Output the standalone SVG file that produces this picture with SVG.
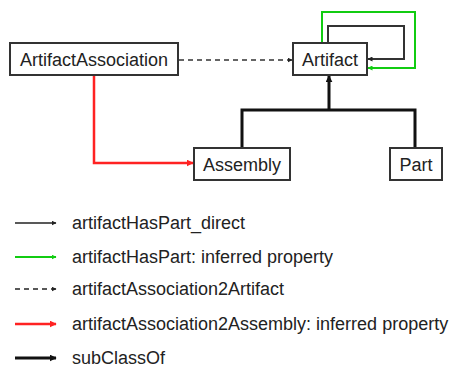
<svg xmlns="http://www.w3.org/2000/svg" width="456" height="367" viewBox="0 0 456 367">
<style>
.box{fill:#fff;stroke:#333;stroke-width:2}
.lbl{font-family:"Liberation Sans",Arial,sans-serif;font-size:18px;fill:#222;text-anchor:middle}
.leg{font-family:"Liberation Sans",Arial,sans-serif;font-size:18px;fill:#222}
.c{fill:none}
</style>
<defs>
<marker id="ak" viewBox="0 0 10 10" refX="9" refY="5" markerWidth="5" markerHeight="5" orient="auto" markerUnits="userSpaceOnUse"><path d="M0,0L10,5L0,10z" fill="#222"/></marker>
<marker id="ak2" viewBox="0 0 10 10" refX="9" refY="5" markerWidth="7" markerHeight="7" orient="auto" markerUnits="userSpaceOnUse"><path d="M0,0L10,5L0,10z" fill="#111"/></marker>
<marker id="ag" viewBox="0 0 10 10" refX="9" refY="5" markerWidth="5" markerHeight="5" orient="auto" markerUnits="userSpaceOnUse"><path d="M0,0L10,5L0,10z" fill="#1c1"/></marker>
<marker id="ar" viewBox="0 0 10 10" refX="9" refY="5" markerWidth="7" markerHeight="7" orient="auto" markerUnits="userSpaceOnUse"><path d="M0,0L10,5L0,10z" fill="#f22"/></marker>
</defs>
<g id="connectors" class="c">
<path d="M328,43V26H404V59H368" stroke="#333" stroke-width="2" marker-end="url(#ak)"/>
<path d="M322,43V12H415V68H368" stroke="#1c1" stroke-width="2" marker-end="url(#ag)"/>
<path d="M179,60H292" stroke="#333" stroke-width="1.5" stroke-dasharray="5,4" marker-end="url(#ak)"/>
<path d="M94,76V163H193" stroke="#f22" stroke-width="2.5" marker-end="url(#ar)"/>
<path d="M242,148V110H415V148M329,110V76" stroke="#111" stroke-width="3" marker-end="url(#ak2)"/>
</g>
<g id="ArtifactAssociation"><rect class="box" x="10" y="43" width="168" height="32"/><text class="lbl" x="94" y="66">ArtifactAssociation</text></g>
<g id="Artifact"><rect class="box" x="293" y="43" width="74" height="32"/><text class="lbl" x="330" y="66">Artifact</text></g>
<g id="Assembly"><rect class="box" x="194" y="148" width="96" height="32"/><text class="lbl" x="242" y="171">Assembly</text></g>
<g id="Part"><rect class="box" x="390" y="148" width="52" height="32"/><text class="lbl" x="416" y="171">Part</text></g>
<g id="legend">
<path d="M15,223H56" stroke="#222" stroke-width="1.5" marker-end="url(#ak)"/>
<path d="M15,257H56" stroke="#1c1" stroke-width="2" marker-end="url(#ag)"/>
<path d="M15,289H56" stroke="#222" stroke-width="1.5" stroke-dasharray="5,4" marker-end="url(#ak)"/>
<path d="M15,324H56" stroke="#f22" stroke-width="2.5" marker-end="url(#ar)"/>
<path d="M15,358H56" stroke="#111" stroke-width="3" marker-end="url(#ak2)"/>
<text class="leg" x="72" y="229">artifactHasPart_direct</text>
<text class="leg" x="72" y="263">artifactHasPart: inferred property</text>
<text class="leg" x="72" y="295">artifactAssociation2Artifact</text>
<text class="leg" x="72" y="330">artifactAssociation2Assembly: inferred property</text>
<text class="leg" x="72" y="364">subClassOf</text>
</g>
</svg>
